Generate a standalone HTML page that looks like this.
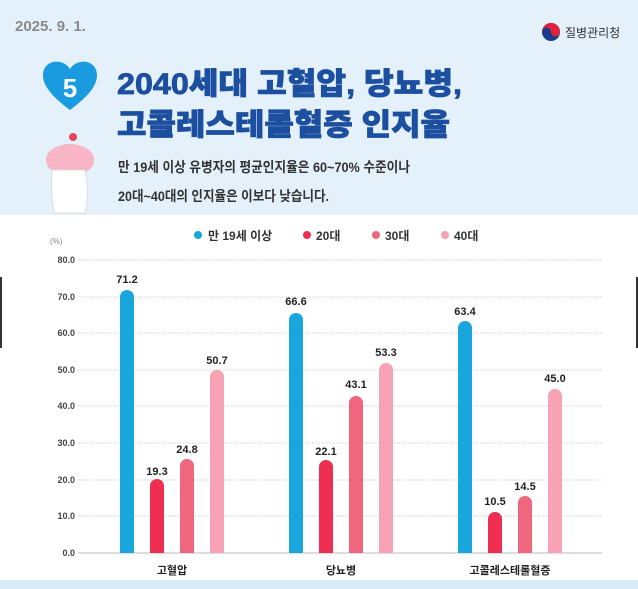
<!DOCTYPE html>
<html><head><meta charset="utf-8"><style>
body{margin:0;width:638px;height:589px;overflow:hidden;background:#e4f0fa;font-family:"Liberation Sans","Noto Sans CJK KR",sans-serif;}
</style></head><body>
<svg width="638" height="589" xmlns="http://www.w3.org/2000/svg" style="position:absolute;left:0;top:0">
<rect x="0" y="0" width="638" height="215" fill="#e4f0fa"/>
<rect x="0" y="215" width="638" height="365" fill="#ffffff"/>
<rect x="0" y="580" width="638" height="9" fill="#d8ecf8"/>
<rect x="0" y="277" width="2" height="71" fill="#333"/>
<rect x="636" y="277" width="2" height="71" fill="#333"/>
<text x="15" y="31" font-size="15" font-weight="bold" fill="#8a8a8a">2025. 9. 1.</text>
<circle cx="551" cy="32" r="9" fill="#1a3c8c"/>
<path d="M542 32 a9 9 0 0 1 18 0 a4.5 4.5 0 0 1 -9 0 a4.5 4.5 0 0 0 -9 0z" fill="#e2223a"/>
<text x="565" y="37" font-size="12" fill="#333">질병관리청</text>
<path d="M70 110 C50 95 43 85 43 75 C43 65 52 60 60 62 C65 63 68 66 70 69 C72 66 75 63 80 62 C88 60 97 65 97 75 C97 85 90 95 70 110Z" fill="#1a9be0"/>
<text x="70" y="97" font-size="26" font-weight="bold" fill="#fff" text-anchor="middle">5</text>
<text x="117" y="94" font-size="30" font-weight="900" fill="#1d4fa0" textLength="345" lengthAdjust="spacingAndGlyphs" stroke="#1d4fa0" stroke-width="0.8">2040세대 고혈압, 당뇨병,</text>
<text x="117" y="135" font-size="30" font-weight="900" fill="#1d4fa0" textLength="333" lengthAdjust="spacingAndGlyphs" stroke="#1d4fa0" stroke-width="0.8">고콜레스테롤혈증 인지율</text>
<circle cx="73" cy="137" r="4" fill="#e8445a"/>
<ellipse cx="70" cy="160" rx="24" ry="16" fill="#f7b5c5"/>
<path d="M52 170 Q50 200 55 213 L85 213 Q90 195 85 170Z" fill="#fff" stroke="#ddd"/>
<text x="118" y="172" font-size="14" font-weight="bold" fill="#333" textLength="292" lengthAdjust="spacingAndGlyphs">만 19세 이상 유병자의 평균인지율은 60~70% 수준이나</text>
<text x="118" y="201" font-size="14" font-weight="bold" fill="#333" textLength="211" lengthAdjust="spacingAndGlyphs">20대~40대의 인지율은 이보다 낮습니다.</text>
<text x="50" y="244" font-size="8" fill="#888">(%)</text>
<circle cx="198" cy="235" r="4" fill="#1aa6dd"/><text x="208" y="240" font-size="12" font-weight="bold" fill="#333">만 19세 이상</text>
<circle cx="307" cy="235" r="4" fill="#ee2f52"/><text x="316" y="240" font-size="12" font-weight="bold" fill="#333">20대</text>
<circle cx="376" cy="235" r="4" fill="#f0667f"/><text x="385" y="240" font-size="12" font-weight="bold" fill="#333">30대</text>
<circle cx="445" cy="235" r="4" fill="#f7a3b5"/><text x="454" y="240" font-size="12" font-weight="bold" fill="#333">40대</text>
<g font-size="9" font-weight="bold" fill="#444" text-anchor="end">
<text x="75" y="263">80.0</text><text x="75" y="300">70.0</text><text x="75" y="336">60.0</text><text x="75" y="373">50.0</text><text x="75" y="409">40.0</text><text x="75" y="446">30.0</text><text x="75" y="483">20.0</text><text x="75" y="519">10.0</text><text x="75" y="556">0.0</text>
</g>
<g stroke="#ccc" stroke-dasharray="1.5,1.5" stroke-width="1">
<line x1="78" y1="260" x2="602" y2="260"/><line x1="78" y1="297" x2="602" y2="297"/><line x1="78" y1="333" x2="602" y2="333"/><line x1="78" y1="370" x2="602" y2="370"/><line x1="78" y1="406" x2="602" y2="406"/><line x1="78" y1="443" x2="602" y2="443"/><line x1="78" y1="480" x2="602" y2="480"/><line x1="78" y1="516" x2="602" y2="516"/>
</g>
<line x1="78" y1="553" x2="602" y2="553" stroke="#bbb" stroke-width="1"/>
<g>
<path d="M120 553 V297 a7 7 0 0 1 14 0 V553Z" fill="#1aa6dd"/>
<path d="M150 553 V486 a7 7 0 0 1 14 0 V553Z" fill="#ee2f52"/>
<path d="M180 553 V466 a7 7 0 0 1 14 0 V553Z" fill="#f0667f"/>
<path d="M210 553 V377 a7 7 0 0 1 14 0 V553Z" fill="#f7a3b5"/>
<path d="M289 553 V320 a7 7 0 0 1 14 0 V553Z" fill="#1aa6dd"/>
<path d="M319 553 V467 a7 7 0 0 1 14 0 V553Z" fill="#ee2f52"/>
<path d="M349 553 V403 a7 7 0 0 1 14 0 V553Z" fill="#f0667f"/>
<path d="M379 553 V370 a7 7 0 0 1 14 0 V553Z" fill="#f7a3b5"/>
<path d="M458 553 V328 a7 7 0 0 1 14 0 V553Z" fill="#1aa6dd"/>
<path d="M488 553 V519 a7 7 0 0 1 14 0 V553Z" fill="#ee2f52"/>
<path d="M518 553 V503 a7 7 0 0 1 14 0 V553Z" fill="#f0667f"/>
<path d="M548 553 V396 a7 7 0 0 1 14 0 V553Z" fill="#f7a3b5"/>
</g>
<g font-size="11" font-weight="bold" fill="#222" text-anchor="middle">
<text x="127" y="283">71.2</text><text x="157" y="475">19.3</text><text x="187" y="453">24.8</text><text x="217" y="364">50.7</text>
<text x="296" y="305">66.6</text><text x="326" y="455">22.1</text><text x="356" y="388">43.1</text><text x="386" y="356">53.3</text>
<text x="465" y="315">63.4</text><text x="495" y="505">10.5</text><text x="525" y="490">14.5</text><text x="555" y="382">45.0</text>
<text x="172" y="574">고혈압</text><text x="341" y="574">당뇨병</text><text x="510" y="574">고콜레스테롤혈증</text>
</g>
</svg>
</body></html>
